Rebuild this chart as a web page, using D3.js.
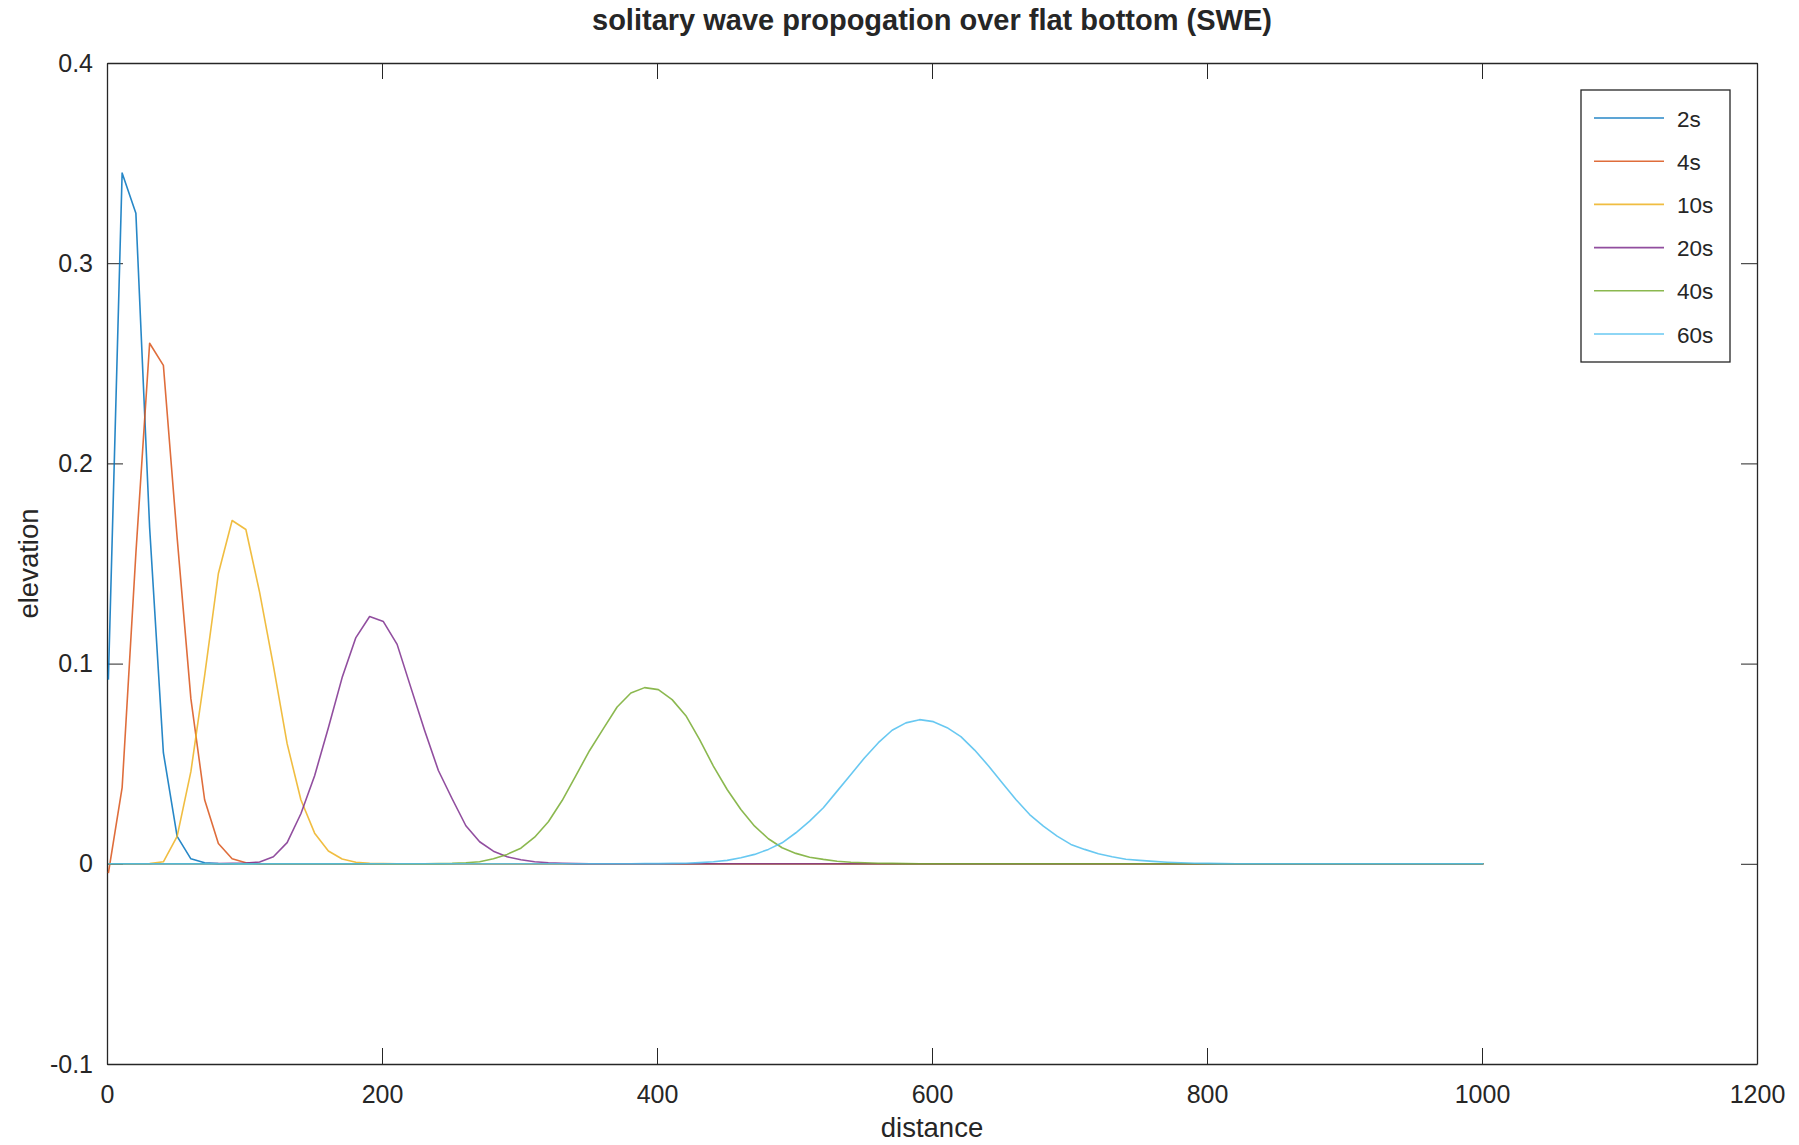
<!DOCTYPE html>
<html>
<head>
<meta charset="utf-8">
<script src="https://cdn.jsdelivr.net/npm/d3@7"></script>
<style>
  html, body { margin: 0; padding: 0; background: #fff; }
  svg { display: block; }
  text { font-family: "Liberation Sans", Arial, Helvetica, sans-serif; fill: #262626; }
</style>
</head>
<body>
<svg id="chart" width="1799" height="1145"></svg>
<script>
// ---------------- data ----------------
const titleText = "solitary wave propogation over flat bottom (SWE)";
const xLabel = "distance";
const yLabel = "elevation";

// sample positions: 1,11,...,1001
const distance = [
  1,11,21,31,41,51,61,71,81,91,101,111,121,131,141,151,161,171,181,191,
  201,211,221,231,241,251,261,271,281,291,301,311,321,331,341,351,361,371,381,391,
  401,411,421,431,441,451,461,471,481,491,501,511,521,531,541,551,561,571,581,591,
  601,611,621,631,641,651,661,671,681,691,701,711,721,731,741,751,761,771,781,791,
  801,811,821,831,841,851,861,871,881,891,901,911,921,931,941,951,961,971,981,991,1001
];

const seriesNames = ["2s", "4s", "10s", "20s", "40s", "60s"];

const eta2s = [
  0.092,0.345,0.325,0.168,0.0555,0.0137,0.0025,0.0005,0.0001,0,0,0,0,0,0,0,0,0,0,0,
  0,0,0,0,0,0,0,0,0,0,0,0,0,0,0,0,0,0,0,0,
  0,0,0,0,0,0,0,0,0,0,0,0,0,0,0,0,0,0,0,0,
  0,0,0,0,0,0,0,0,0,0,0,0,0,0,0,0,0,0,0,0,
  0,0,0,0,0,0,0,0,0,0,0,0,0,0,0,0,0,0,0,0,0
];
const eta4s = [
  -0.0047,0.038,0.155,0.260,0.249,0.163,0.0825,0.032,0.0101,0.0025,0.0005,0.0001,0,0,0,0,0,0,0,0,
  0,0,0,0,0,0,0,0,0,0,0,0,0,0,0,0,0,0,0,0,
  0,0,0,0,0,0,0,0,0,0,0,0,0,0,0,0,0,0,0,0,
  0,0,0,0,0,0,0,0,0,0,0,0,0,0,0,0,0,0,0,0,
  0,0,0,0,0,0,0,0,0,0,0,0,0,0,0,0,0,0,0,0,0
];
const eta10s = [
  0,0,0,0.0001,0.001,0.0137,0.046,0.094,0.145,0.1715,0.167,0.1356,0.099,0.060,0.032,0.0153,0.0064,0.0024,0.0008,0.0002,
  0.0001,0,0,0,0,0,0,0,0,0,0,0,0,0,0,0,0,0,0,0,
  0,0,0,0,0,0,0,0,0,0,0,0,0,0,0,0,0,0,0,0,
  0,0,0,0,0,0,0,0,0,0,0,0,0,0,0,0,0,0,0,0,
  0,0,0,0,0,0,0,0,0,0,0,0,0,0,0,0,0,0,0,0,0
];
const eta20s = [
  0,0,0,0,0,0,0,0,0.0001,0.0002,0.0004,0.0009,0.0035,0.0106,0.025,0.044,0.068,0.093,0.113,0.1235,
  0.121,0.1096,0.088,0.0666,0.0466,0.0325,0.019,0.011,0.0063,0.0035,0.002,0.001,0.0005,0.0003,0.0001,0,0,0,0,0,
  0,0,0,0,0,0,0,0,0,0,0,0,0,0,0,0,0,0,0,0,
  0,0,0,0,0,0,0,0,0,0,0,0,0,0,0,0,0,0,0,0,
  0,0,0,0,0,0,0,0,0,0,0,0,0,0,0,0,0,0,0,0,0
];
const eta40s = [
  0,0,0,0,0,0,0,0,0,0,0,0,0,0,0,0,0,0,0,0,
  0,0,0,0,0.0001,0.0002,0.0005,0.001,0.0025,0.0047,0.0078,0.0133,0.021,0.0316,0.0441,0.0566,0.0675,0.0783,0.0853,0.088,
  0.087,0.082,0.074,0.062,0.0488,0.0371,0.0271,0.0188,0.0125,0.008,0.0052,0.0033,0.0022,0.0013,0.0008,0.0005,0.0003,0.0002,0.0001,0,
  0,0,0,0,0,0,0,0,0,0,0,0,0,0,0,0,0,0,0,0,
  0,0,0,0,0,0,0,0,0,0,0,0,0,0,0,0,0,0,0,0,0
];
const eta60s = [
  0,0,0,0,0,0,0,0,0,0,0,0,0,0,0,0,0,0,0,0,
  0,0,0,0,0,0,0,0,0,0,0,0,0,0,0,0,0,0,0,0.0001,
  0.0001,0.0002,0.0003,0.0006,0.001,0.0017,0.003,0.0047,0.0072,0.0105,0.0155,0.0213,0.028,0.0363,0.0446,0.053,0.0605,0.0667,0.0704,0.072,
  0.071,0.068,0.0635,0.0568,0.049,0.0405,0.0321,0.0246,0.0188,0.0138,0.0097,0.0072,0.005,0.0035,0.0023,0.0017,0.0012,0.0008,0.0005,0.0003,
  0.0002,0.0001,0,0,0,0,0,0,0,0,0,0,0,0,0,0,0,0,0,0,0
];

const xTicks = [0, 200, 400, 600, 800, 1000, 1200];
const xTickLabels = ["0", "200", "400", "600", "800", "1000", "1200"];
const yTicks = [-0.1, 0, 0.1, 0.2, 0.3, 0.4];
const yTickLabels = ["-0.1", "0", "0.1", "0.2", "0.3", "0.4"];

const colors = ["#0072BD", "#D95319", "#EDB120", "#7E2F8E", "#77AC30", "#4DBEEE"];

// ---------------- layout ----------------
const W = 1799, H = 1145;
const m = { left: 107, right: W - 1757, top: 63, bottom: H - 1064 };
const iw = W - m.left - m.right, ih = H - m.top - m.bottom;

const svg = d3.select("#chart");
const g = svg.append("g").attr("transform", `translate(${m.left},${m.top})`);

const x = d3.scaleLinear().domain([0, 1200]).range([0, iw]);
const y = d3.scaleLinear().domain([-0.1, 0.4]).range([ih, 0]);

const tickFont = 25, labelFont = 27.5;
const axisColor = "#262626";

// bottom axis
const xAxis = g.append("g").attr("transform", `translate(0,${ih})`)
  .call(d3.axisBottom(x).tickValues(xTicks)
    .tickFormat((d, i) => xTickLabels[i])
    .tickSizeInner(-16).tickSizeOuter(0).tickPadding(21));
// left axis
const yAxis = g.append("g")
  .call(d3.axisLeft(y).tickValues(yTicks)
    .tickFormat((d, i) => yTickLabels[i])
    .tickSizeInner(-16).tickSizeOuter(0).tickPadding(14));
// top axis (ticks only)
const tAxis = g.append("g")
  .call(d3.axisTop(x).tickValues(xTicks).tickFormat("")
    .tickSizeInner(-16).tickSizeOuter(0));
// right axis (ticks only)
const rAxis = g.append("g").attr("transform", `translate(${iw},0)`)
  .call(d3.axisRight(y).tickValues(yTicks).tickFormat("")
    .tickSizeInner(-16).tickSizeOuter(0));

[xAxis, yAxis, tAxis, rAxis].forEach(a => {
  a.selectAll(".domain").attr("stroke", axisColor).attr("stroke-width", 1.3);
  a.selectAll(".tick line").attr("stroke", axisColor).attr("stroke-width", 1);
  a.selectAll(".tick text")
    .style("font-family", '"Liberation Sans", Arial, sans-serif')
    .style("font-size", tickFont + "px")
    .attr("fill", axisColor);
});

// lines
const allSeries = [eta2s, eta4s, eta10s, eta20s, eta40s, eta60s];
const line = d3.line().x((d, i) => x(distance[i])).y(d => y(d));
allSeries.forEach((s, k) => {
  g.append("path")
    .datum(s)
    .attr("fill", "none")
    .attr("stroke", colors[k])
    .attr("stroke-opacity", 0.85)
    .attr("stroke-width", 1.6)
    .attr("stroke-linejoin", "round")
    .attr("d", line);
});

// title
svg.append("text")
  .attr("x", m.left + iw / 2).attr("y", 30)
  .attr("text-anchor", "middle")
  .style("font-size", "29px").style("font-weight", "bold")
  .attr("fill", "#000")
  .text(titleText);

// axis labels
svg.append("text")
  .attr("x", m.left + iw / 2).attr("y", 1137)
  .attr("text-anchor", "middle")
  .style("font-size", labelFont + "px")
  .text(xLabel);
svg.append("text")
  .attr("transform", `translate(38,${m.top + ih / 2}) rotate(-90)`)
  .attr("text-anchor", "middle")
  .style("font-size", labelFont + "px")
  .text(yLabel);

// legend
const lg = svg.append("g");
lg.append("rect")
  .attr("x", 1581).attr("y", 90).attr("width", 149).attr("height", 272)
  .attr("fill", "#fff").attr("stroke", axisColor).attr("stroke-width", 1.3);
seriesNames.forEach((name, k) => {
  const yy = 118 + k * 43.2;
  lg.append("line")
    .attr("x1", 1594).attr("x2", 1664).attr("y1", yy).attr("y2", yy)
    .attr("stroke", colors[k]).attr("stroke-opacity", 0.85).attr("stroke-width", 1.6);
  lg.append("text")
    .attr("x", 1677).attr("y", yy).attr("dy", "0.38em")
    .style("font-size", "22.5px")
    .text(name);
});
</script>
</body>
</html>
